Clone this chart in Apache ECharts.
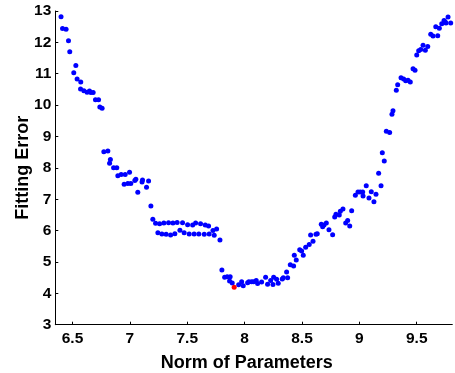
<!DOCTYPE html>
<html>
<head>
<meta charset="utf-8">
<script src="https://cdn.jsdelivr.net/npm/echarts@6/dist/echarts.min.js"></script>
<style>html,body{margin:0;padding:0;background:#fff}#c{width:455px;height:373px}</style>
</head>
<body>
<div id="c"></div>
<script>
var xValues = [6.400,6.413,6.444,6.465,6.476,6.511,6.529,6.540,6.570,6.572,6.599,6.627,6.648,6.660,6.680,6.700,6.727,6.738,6.758,6.773,6.808,6.823,6.830,6.858,6.886,6.895,6.924,6.950,6.959,6.982,6.997,7.008,7.043,7.052,7.069,7.110,7.106,7.145,7.163,7.183,7.200,7.224,7.244,7.259,7.279,7.296,7.316,7.337,7.355,7.375,7.392,7.412,7.436,7.459,7.473,7.503,7.517,7.547,7.560,7.573,7.601,7.616,7.648,7.657,7.686,7.691,7.724,7.735,7.756,7.785,7.802,7.826,7.848,7.869,7.874,7.892,7.948,7.974,7.988,8.026,8.037,8.061,8.078,8.101,8.113,8.148,8.183,8.200,8.227,8.247,8.253,8.279,8.293,8.328,8.337,8.366,8.375,8.398,8.427,8.433,8.450,8.480,8.497,8.511,8.532,8.563,8.575,8.596,8.622,8.633,8.668,8.680,8.692,8.712,8.735,8.767,8.785,8.796,8.825,8.834,8.857,8.881,8.898,8.916,8.933,8.965,8.988,9.008,9.029,9.032,9.060,9.084,9.104,9.127,9.145,9.168,9.189,9.200,9.217,9.235,9.264,9.284,9.293,9.322,9.334,9.363,9.386,9.404,9.424,9.444,9.468,9.485,9.500,9.517,9.535,9.555,9.575,9.596,9.622,9.642,9.666,9.683,9.697,9.718,9.738,9.747,9.755,9.773,9.796,9.814];
var yValues = [12.82,12.44,12.42,12.05,11.70,11.03,11.26,10.83,10.51,10.74,10.46,10.41,10.45,10.40,10.40,10.17,10.17,9.94,9.90,8.51,8.54,8.15,8.27,8.00,8.00,7.75,7.79,7.48,7.79,7.50,7.86,7.50,7.60,7.64,7.22,7.61,7.55,7.38,7.58,6.78,6.36,6.23,5.93,6.22,5.89,6.24,5.88,6.25,5.86,6.24,5.90,6.26,6.01,6.25,5.93,6.19,5.89,6.18,5.89,6.24,5.89,6.22,5.88,6.18,6.15,5.89,6.00,5.85,6.05,5.70,4.74,4.51,4.53,4.39,4.53,4.33,4.27,4.37,4.24,4.34,4.37,4.37,4.37,4.41,4.31,4.36,4.51,4.29,4.41,4.28,4.51,4.45,4.32,4.46,4.50,4.68,4.50,4.91,4.87,5.21,5.06,5.39,5.35,5.21,5.47,5.56,5.86,5.66,5.88,5.90,6.20,6.12,6.18,6.24,6.03,5.87,6.43,6.52,6.50,6.62,6.69,6.24,6.32,6.15,6.63,7.13,7.23,7.23,7.23,7.10,7.43,7.04,7.24,6.92,7.16,7.83,7.43,8.48,8.22,9.17,9.13,9.71,9.82,10.47,10.65,10.87,10.83,10.78,10.79,10.74,11.16,11.11,11.60,11.73,11.77,11.91,11.75,11.87,12.26,12.20,12.50,12.21,12.45,12.59,12.70,12.66,12.62,12.81,12.62,12.82];
var bestPoint = [7.909, 4.19];
var xTicks = [6.5, 7, 7.5, 8, 8.5, 9, 9.5];
var xTickLabels = ['6.5', '7', '7.5', '8', '8.5', '9', '9.5'];

var pts = xValues.map(function (x, i) { return [x, yValues[i]]; });
var chart = echarts.init(document.getElementById('c'), null, {renderer: 'canvas'});
var font = 'Liberation Sans, Arial, Helvetica, sans-serif';
chart.setOption({
  animation: false,
  grid: {left: 55.3, right: 2.7, top: 11, bottom: 48.3, containLabel: false, outerBoundsMode: 'none'},
  xAxis: {
    type: 'value', min: 6.35, max: 9.81,
    name: 'Norm of Parameters', nameLocation: 'middle', nameGap: 29, nameMoveOverlap: false,
    nameTextStyle: {fontFamily: font, fontWeight: 'bold', fontSize: 18, color: '#000', padding: [0, 14, 0, 0]},
    axisLine: {show: true, lineStyle: {color: '#000', width: 1}},
    axisTick: {show: true, inside: true, length: 3, customValues: xTicks, lineStyle: {color: '#000'}},
    axisLabel: {customValues: xTicks, formatter: function (v) { var i = xTicks.indexOf(v); return i >= 0 ? xTickLabels[i] : ''; },
      fontFamily: font, fontWeight: 'bold', fontSize: 15.5, color: '#000', margin: 6},
    splitLine: {show: false}
  },
  yAxis: {
    type: 'value', min: 3, max: 13, interval: 1,
    name: 'Fitting Error', nameLocation: 'middle', nameGap: 23, nameMoveOverlap: false,
    nameTextStyle: {fontFamily: font, fontWeight: 'bold', fontSize: 18, color: '#000'},
    axisLine: {show: true, lineStyle: {color: '#000', width: 1}},
    axisTick: {show: true, inside: true, length: 3, lineStyle: {color: '#000'}},
    axisLabel: {fontFamily: font, fontWeight: 'bold', fontSize: 15.5, color: '#000', margin: 4},
    splitLine: {show: false}
  },
  series: [
    {type: 'scatter', data: pts, symbol: 'circle', symbolSize: 5, itemStyle: {color: '#0000ff', opacity: 1}, silent: true},
    {type: 'scatter', data: [bestPoint], symbol: 'circle', symbolSize: 5, itemStyle: {color: '#ff0000', opacity: 1}, silent: true}
  ]
});
</script>
</body>
</html>
